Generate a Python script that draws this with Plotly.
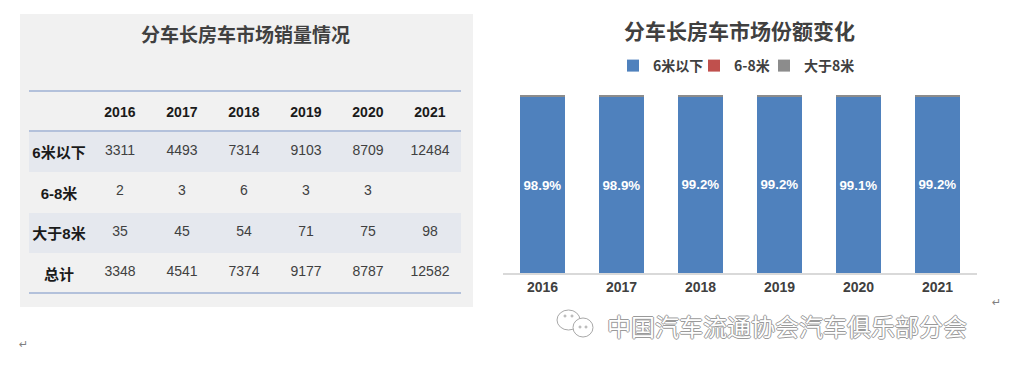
import plotly.graph_objects as go

W, H = 1012, 369
OFF = 8  # default body margin of the page
FW, FH = W - 2 * OFF, H - 2 * OFF

years = ["2016", "2017", "2018", "2019", "2020", "2021"]
segments = ["6米以下", "6-8米", "大于8米"]
under6 = [3311, 4493, 7314, 9103, 8709, 12484]
m6to8 = [2, 3, 6, 3, 3, None]
over8 = [35, 45, 54, 71, 75, 98]
totals = [3348, 4541, 7374, 9177, 8787, 12582]
colors = ["#4F81BD", "#C0504D", "#8C8C8C"]
row_labels = ["6米以下", "6-8米", "大于8米", "总计"]

title_left = "分车长房车市场销量情况"
title_right = "分车长房车市场份额变化"
watermark = "中国汽车流通协会汽车俱乐部分会"

CJK = "Noto Sans CJK SC"
ARIAL = "Liberation Sans, Arial, Noto Sans CJK SC"


def px(x):
    return (x - OFF) / FW


def py(y):
    return 1 - (y - OFF) / FH


fig = go.Figure()

# ---------- table ----------
cols = [[f"<b>{r}</b>" for r in row_labels]]
for i in range(len(years)):
    col = [under6[i], m6to8[i], over8[i], totals[i]]
    cols.append(["" if v is None else str(v) for v in col])

clear = "rgba(0,0,0,0)"
fig.add_trace(go.Table(
    domain=dict(x=[px(29), px(461)], y=[py(308), py(96)]),
    columnwidth=[60] + [62] * 6,
    header=dict(
        values=[""] + [f"<b>{y}</b>" for y in years],
        height=40,
        fill_color=clear,
        line_color=clear,
        align="center",
        font=dict(family=ARIAL, size=14, color="#1a1a1a"),
    ),
    cells=dict(
        values=cols,
        height=40.5,
        fill_color=clear,
        line_color=clear,
        align="center",
        font=dict(family=ARIAL, size=[15] + [14] * 6,
                  color=["#1a1a1a"] + ["#404040"] * 6),
    ),
))

# ---------- stacked share bars ----------
seg_vals = [under6, m6to8, over8]
legend_ids = ["legend", "legend2", "legend3"]
for name, vals, c, lg in zip(segments, seg_vals, colors, legend_ids):
    share = [(0 if v is None else v) / t for v, t in zip(vals, totals)]
    if name == segments[0]:
        kw = dict(texttemplate="<b>%{y:.1%}</b>", textposition="inside",
                  insidetextanchor="middle", textangle=0,
                  textfont=dict(family=ARIAL, size=14, color="white"))
    else:
        kw = dict(textposition="none")
    fig.add_trace(go.Bar(
        x=years, y=share, name=name, legend=lg,
        marker=dict(color=c, line=dict(width=0)),
        width=0.56, hoverinfo="skip", **kw))

leg_common = dict(orientation="h", xanchor="left", yanchor="middle",
                  font=dict(family=CJK, size=14, color="#404040", weight="bold"),
                  itemwidth=30, bgcolor="rgba(0,0,0,0)", borderwidth=0)
fig.update_layout(
    barmode="stack",
    width=FW, height=FH,
    margin=dict(l=0, r=0, t=0, b=0),
    paper_bgcolor="white",
    plot_bgcolor="rgba(0,0,0,0)",
    xaxis=dict(domain=[px(503), px(977)], showgrid=False, showline=True,
               linecolor="#D9D9D9", linewidth=1.5, ticks="",
               tickfont=dict(family=ARIAL, size=14, color="#404040", weight="bold"),
               fixedrange=True),
    yaxis=dict(domain=[py(273), py(95)], range=[0, 1], visible=False,
               showgrid=False, fixedrange=True),
    showlegend=True,
    legend=dict(x=px(613), y=py(66), **leg_common),
    legend2=dict(x=px(694), y=py(66), **leg_common),
    legend3=dict(x=px(764), y=py(66), **leg_common),
)

# ---------- decorations ----------
shapes = [
    dict(type="rect", xref="paper", yref="paper", x0=px(20), x1=px(473),
         y0=py(307), y1=py(14), fillcolor="#F1F1F1", line=dict(width=0), layer="below"),
]
for y0, y1 in ((131, 172), (213, 253)):
    shapes.append(dict(type="rect", xref="paper", yref="paper", x0=px(29), x1=px(461),
                       y0=py(y1), y1=py(y0), fillcolor="#E5E8EE", line=dict(width=0),
                       layer="below"))
for yy in (91, 131, 293):
    shapes.append(dict(type="line", xref="paper", yref="paper", x0=px(29), x1=px(461),
                       y0=py(yy), y1=py(yy), line=dict(color="#B3C1DB", width=2)))
# wechat-like icon
for (x0, x1, y0, y1) in ((557, 580, 310, 330), (573, 593, 318, 337)):
    shapes.append(dict(type="circle", xref="paper", yref="paper", x0=px(x0), x1=px(x1),
                       y0=py(y1), y1=py(y0), line=dict(color="#A8A8A8", width=1),
                       fillcolor="white"))
for (cx, cy) in ((565, 316), (572, 316), (580, 327), (586, 327)):
    shapes.append(dict(type="circle", xref="paper", yref="paper", x0=px(cx - 1), x1=px(cx + 1),
                       y0=py(cy + 1), y1=py(cy - 1), line=dict(color="#A8A8A8", width=1),
                       fillcolor="white"))
fig.update_layout(shapes=shapes)

anns = [
    dict(text=f"<b>{title_left}</b>", x=px(245), y=py(34), xanchor="center",
         yanchor="middle", xref="paper", yref="paper",
         showarrow=False, font=dict(family=CJK, size=19, color="#404040")),
    dict(text=f"<b>{title_right}</b>", x=px(739), y=py(30), xanchor="center",
         yanchor="middle", xref="paper", yref="paper",
         showarrow=False, font=dict(family=CJK, size=21, color="#404040")),
    dict(text=watermark, x=px(605), y=py(325), xref="paper", yref="paper",
         xanchor="left", yanchor="middle", showarrow=False,
         font=dict(family=CJK, size=24, color="#FFFFFF",
                   shadow="1px 0 #9a9a9a, -1px 0 #9a9a9a, 0 1px #9a9a9a, 0 -1px #9a9a9a")),
    dict(text="↵", x=px(996), y=py(302), xref="paper", yref="paper", showarrow=False,
         xanchor="center", yanchor="middle",
         font=dict(family="DejaVu Sans", size=11, color="#808080")),
    dict(text="↵", x=px(23), y=py(344), xref="paper", yref="paper", showarrow=False,
         xanchor="center", yanchor="middle",
         font=dict(family="DejaVu Sans", size=11, color="#808080")),
]
fig.update_layout(annotations=anns)

fig.write_html("out.html")
